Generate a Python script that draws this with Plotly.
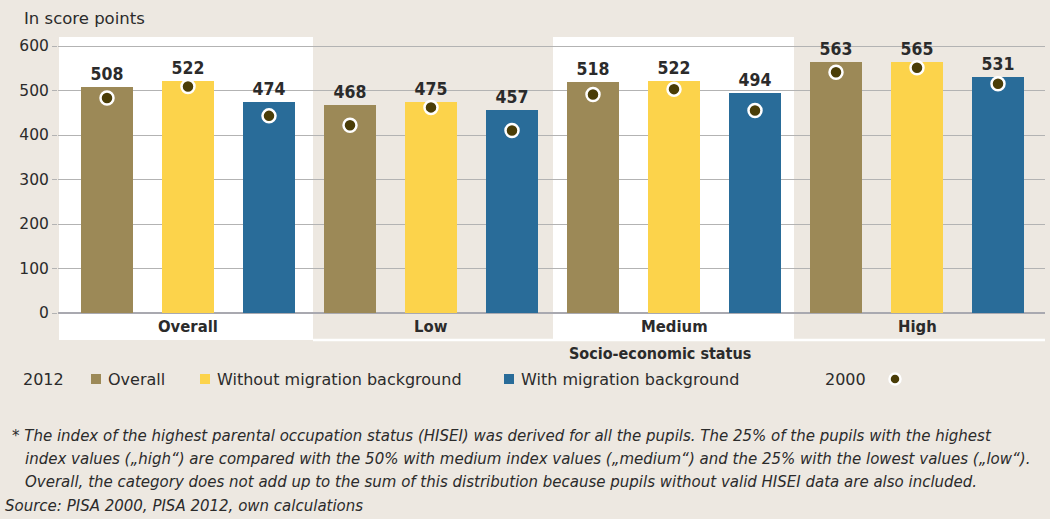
import plotly.graph_objects as go

groups = ["Overall", "Low", "Medium", "High"]
series = ["Overall", "Without migration background", "With migration background"]
values_2012 = {
    "Overall": [508, 468, 518, 563],
    "Without migration background": [522, 475, 522, 565],
    "With migration background": [474, 457, 494, 531],
}
values_2000 = {
    "Overall": [483, 422, 491, 541],
    "Without migration background": [509, 462, 503, 551],
    "With migration background": [443, 410, 455, 515],
}
colors = {
    "Overall": "#9c8957",
    "Without migration background": "#fcd34b",
    "With migration background": "#296c99",
}
y_ticks = [0, 100, 200, 300, 400, 500, 600]

BG = "#ede8e1"
DOT = "#4a3d07"
TXT = "#2b2b2b"
FONT = "DejaVu Sans, sans-serif"
FONT_C = "DejaVu Sans Condensed, DejaVu Sans, sans-serif"

# layout in pixels
W, H = 1050, 519
L, R = 58, 1045
T, B = 37, 313
def px(x):
    return (x - L) / (R - L)
def py(y):
    return (B - y) / (B - T)

fig = go.Figure()
n = len(series)
for i, s in enumerate(series):
    xs = [g * n + i for g in range(len(groups))]
    fig.add_trace(go.Bar(
        x=xs, y=values_2012[s], name=s, marker_color=colors[s], marker_line_width=0,
        width=0.642,
        text=[str(v) for v in values_2012[s]], textposition="outside",
        textfont=dict(family=FONT_C, size=17.5, color=TXT, weight="bold"),
        cliponaxis=False, showlegend=False,
    ))
for i, s in enumerate(series):
    xs = [g * n + i for g in range(len(groups))]
    fig.add_trace(go.Scatter(
        x=xs, y=values_2000[s], mode="markers",
        marker=dict(color=DOT, size=13, line=dict(color="white", width=2.5)),
        showlegend=False, cliponaxis=False,
    ))

shapes = []
# white panels for Overall and Medium
shapes.append(dict(type="rect", xref="paper", yref="paper", x0=px(59), x1=px(313),
                   y0=py(340), y1=1, fillcolor="white", line_width=0, layer="below"))
shapes.append(dict(type="rect", xref="paper", yref="paper", x0=px(553), x1=px(794),
                   y0=py(340), y1=1, fillcolor="white", line_width=0, layer="below"))
# white separator line under group labels
shapes.append(dict(type="line", xref="paper", yref="paper", x0=px(313), x1=1,
                   y0=py(340), y1=py(340), line=dict(color="white", width=2.5)))
# legend squares
for x0, c in [(91, colors[series[0]]), (200, colors[series[1]]), (504, colors[series[2]])]:
    shapes.append(dict(type="rect", xref="paper", yref="paper", x0=px(x0), x1=px(x0 + 10),
                       y0=py(384), y1=py(374), fillcolor=c, line_width=0))
# legend dot for 2000
shapes.append(dict(type="circle", xref="paper", yref="paper", x0=px(889.5), x1=px(900.5),
                   y0=py(384.5), y1=py(373.5), fillcolor=DOT,
                   line=dict(color="white", width=2.5)))

annotations = []
annotations.append(dict(text="In score points", xref="paper", yref="paper", x=px(22), y=py(19),
                        xanchor="left", yanchor="middle", showarrow=False,
                        font=dict(family=FONT, size=16.5, color=TXT)))
for g, name in enumerate(groups):
    annotations.append(dict(text=f"<b>{name}</b>", x=g * n + 1, xref="x", yref="paper", y=py(326),
                            xanchor="center", yanchor="middle", showarrow=False,
                            font=dict(family=FONT_C, size=16.5, color=TXT)))
annotations.append(dict(text="<b>Socio-economic status</b>", xref="paper", yref="paper",
                        x=px(660), y=py(353), xanchor="center", yanchor="middle", showarrow=False,
                        font=dict(family=FONT_C, size=16, color=TXT)))
for x, t in [(21, "2012"), (106, series[0]), (215, series[1]), (519, series[2]), (823, "2000")]:
    annotations.append(dict(text=t, xref="paper", yref="paper", x=px(x), y=py(379),
                            xanchor="left", yanchor="middle", showarrow=False,
                            font=dict(family=FONT, size=16, color=TXT)))
foot = [
    (10, 436, "* The index of the highest parental occupation status (HISEI) was derived for all the pupils. The 25% of the pupils with the highest"),
    (23, 459, "index values („high“) are compared with the 50% with medium index values („medium“) and the 25% with the lowest values („low“)."),
    (23, 482, "Overall, the category does not add up to the sum of this distribution because pupils without valid HISEI data are also included."),
    (3, 506, "Source: PISA 2000, PISA 2012, own calculations"),
]
for x, y, t in foot:
    annotations.append(dict(text=f"<i>{t}</i>", xref="paper", yref="paper", x=px(x), y=py(y),
                            xanchor="left", yanchor="middle", showarrow=False,
                            font=dict(family=FONT, size=15, color=TXT)))

fig.update_layout(
    width=W, height=H,
    margin=dict(l=L, r=W - R, t=T, b=H - B),
    paper_bgcolor=BG, plot_bgcolor="rgba(0,0,0,0)",
    barmode="overlay", bargap=0,
    shapes=shapes, annotations=annotations,
    xaxis=dict(range=[(L - 107) / 81, (R - 107) / 81], showgrid=False, zeroline=False,
               showticklabels=False, fixedrange=True),
    yaxis=dict(range=[0, (B - T) / 0.445], tickvals=y_ticks, showgrid=True,
               gridcolor="#b3b3b3", gridwidth=1, zeroline=True, zerolinecolor="#a9a9b0",
               zerolinewidth=1.5, ticks="outside", ticklen=5, tickcolor="#b3b3b3",
               tickfont=dict(family=FONT, size=15.5, color=TXT)),
    showlegend=False,
)

fig.write_html("out.html", config={"displayModeBar": False},
               post_script="document.body.style.margin='0px';document.body.style.background='%s';" % BG)
